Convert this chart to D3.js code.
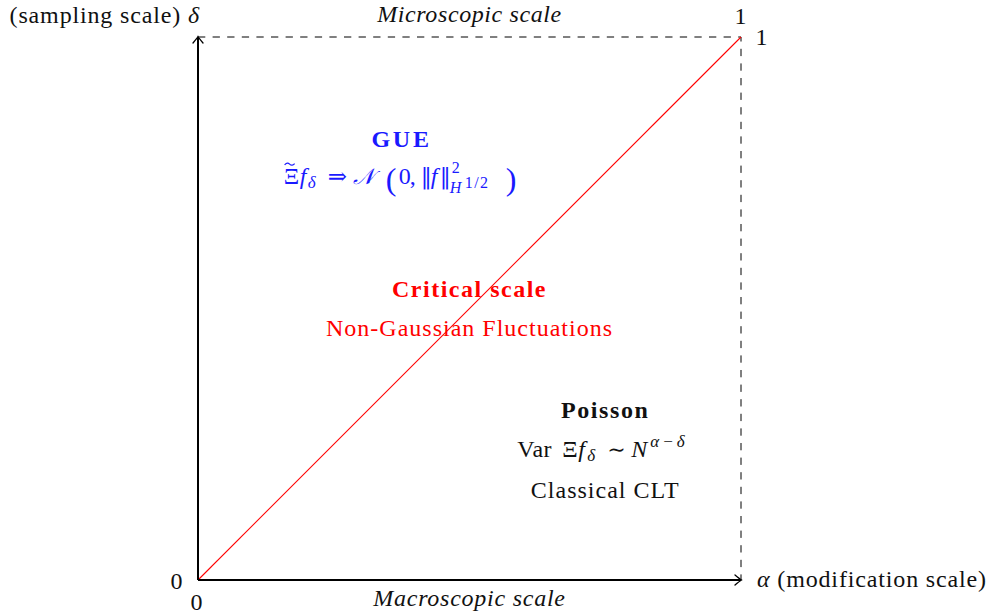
<!DOCTYPE html>
<html>
<head>
<meta charset="utf-8">
<script src="https://cdn.jsdelivr.net/npm/d3@7"></script>
<style>
  html, body { margin: 0; padding: 0; background: #fff; }
  svg text { font-family: "Liberation Serif", "DejaVu Serif", serif; }
</style>
</head>
<body>
<svg id="chart" width="995" height="616"></svg>
<script>
// ---- data ----
const axisDomain = [0, 1];
const xTickValues = [0, 1];
const yTickValues = [0, 1];
const diagonal = [[0, 0], [1, 1]];          // critical line alpha = delta
const boundary = [[0, 1], [1, 1], [1, 0]];  // dashed frame
const xAxisLabel = "(modification scale)";
const yAxisLabel = "(sampling scale)";
const topLabel = "Microscopic scale";
const bottomLabel = "Macroscopic scale";
const regionNames = ["GUE", "Critical scale", "Poisson"];
const regionAlpha = [0.375, 0.5, 0.75];
const regionDelta = [0.75, 0.5, 0.25];

// ---- layout ----
const svg = d3.select("#chart");
const x = d3.scaleLinear().domain(axisDomain).range([198, 741]);
const y = d3.scaleLinear().domain(axisDomain).range([580, 37]);
const FS = 24;
const LS = 0.85;
const BLUE = "#1a1aff";

const defs = svg.append("defs");
defs.append("marker")
  .attr("id", "arrow").attr("viewBox", "-8 -6 10 12")
  .attr("refX", 0).attr("refY", 0)
  .attr("markerWidth", 10).attr("markerHeight", 12)
  .attr("markerUnits", "userSpaceOnUse").attr("orient", "auto")
  .append("path")
  .attr("d", "M-6,-5 Q-1.5,-1.2 0.5,0 Q-1.5,1.2 -6,5")
  .attr("fill", "none").attr("stroke", "#000").attr("stroke-width", 1.3)
  .attr("stroke-linecap", "round");

const line = d3.line().x(d => x(d[0])).y(d => y(d[1]));

// dashed frame
svg.append("path").datum(boundary).attr("d", line)
  .attr("fill", "none").attr("stroke", "#000").attr("stroke-width", 1)
  .attr("stroke-dasharray", "7.3,7.3");

// diagonal (red critical line)
svg.append("path").datum(diagonal).attr("d", line)
  .attr("fill", "none").style("stroke", "#ff0000").style("stroke-width", "1.1px");

// axes
svg.append("line").attr("x1", x(0)).attr("y1", y(0)).attr("x2", x(1)).attr("y2", y(0))
  .attr("stroke", "#000").attr("stroke-width", 2).attr("marker-end", "url(#arrow)");
svg.append("line").attr("x1", x(0)).attr("y1", y(0)).attr("x2", x(0)).attr("y2", y(1))
  .attr("stroke", "#000").attr("stroke-width", 2).attr("marker-end", "url(#arrow)");

function txt(px, py, anchor, opts = {}) {
  const t = svg.append("text").attr("x", px).attr("y", py)
    .attr("text-anchor", anchor)
    .attr("font-size", opts.size || FS)
    .attr("font-weight", opts.weight || "normal")
    .attr("font-style", opts.style || "normal")
    .attr("letter-spacing", opts.ls != null ? opts.ls : LS)
    .attr("fill", opts.fill || "#111");
  if (opts.family) t.style("font-family", opts.family);
  return t;
}

// tick labels
xTickValues.forEach(v => {
  txt(x(v) + (v === 0 ? -1 : 0), v === 0 ? 610 : 24, "middle").text(String(v));
});
txt(x(0) - 21, y(0) + 9, "middle").text(String(yTickValues[0]));
txt(x(1) + 21, y(1) + 8, "middle").text(String(yTickValues[1]));

// axis labels
const yl = txt(x(0) + 2, 23, "end");
yl.append("tspan").text(yAxisLabel + " ");
yl.append("tspan").attr("font-style", "italic").text("δ");

const xl = txt(x(1) + 16, y(0) + 7, "start");
xl.append("tspan").attr("font-style", "italic").text("α");
xl.append("tspan").text(" " + xAxisLabel);

txt((x(0) + x(1)) / 2, 22, "middle", {style: "italic", ls: 0.6}).text(topLabel);
txt((x(0) + x(1)) / 2, 606, "middle", {style: "italic", ls: 0.75}).text(bottomLabel);

// formula: one text element, pieces placed as tspans
// piece: [text, dx from centre, dy from baseline, size, style, family, ls]
function formula(cx, cy, pieces, fill) {
  const t = txt(cx, cy, "start", {ls: 0, fill});
  pieces.forEach(p => {
    const s = t.append("tspan")
      .attr("x", cx + p[1]).attr("y", cy + p[2])
      .attr("font-size", p[3])
      .attr("font-style", p[4] || "normal")
      .attr("letter-spacing", p[6] || 0)
      .text(p[0]);
    if (p[5]) s.style("font-family", p[5]);
  });
  return t;
}

// ---- regions ----
// GUE
{
  const cx = x(regionAlpha[0]), cy = y(regionDelta[0]);
  txt(cx, cy - 26, "middle", {weight: "bold", fill: BLUE, ls: 2.8}).text(regionNames[0]);
  const by = cy + 11;
  formula(cx, by, [
    ["Ξ", -118, 0, 24],
    ["f", -102, 0, 24, "italic"],
    ["δ", -94, 4, 17, "italic"],
    ["⇒", -74, 0, 23, null, "DejaVu Serif"],
    ["𝒩", -49, 0, 22, "italic", "DejaVu Serif"],
    ["(", -16, 6, 32],
    ["0", -3, 0, 24],
    [",", 8, 0, 24],
    ["‖", 19, 0, 22, null, "DejaVu Serif"],
    ["f", 29, 0, 24, "italic"],
    ["‖", 38, 0, 22, null, "DejaVu Serif"],
    ["2", 50, -11, 16],
    ["H", 48, 9, 16, "italic"],
    ["1/2", 63, 4, 16, null, null, 1.5],
    [")", 104, 6, 32]
  ], BLUE);
  // tilde accent over Xi
  const tx = cx - 117, ty = by - 20;
  svg.append("path")
    .attr("d", `M${tx},${ty + 1.2} q2.5,-3.2 5,-0.8 t5,-0.6`)
    .attr("fill", "none").attr("stroke", BLUE).attr("stroke-width", 1.2);
}
// Critical
{
  const cx = x(regionAlpha[1]), cy = y(regionDelta[1]);
  txt(cx, cy - 12, "middle", {weight: "bold", fill: "#ff0000", ls: 1.5}).text(regionNames[1]);
  txt(cx, cy + 27, "middle", {fill: "#ff0000", ls: 1.0}).text("Non-Gaussian Fluctuations");
}
// Poisson
{
  const cx = x(regionAlpha[2]), cy = y(regionDelta[2]);
  txt(cx, cy - 26, "middle", {weight: "bold", ls: 1.6}).text(regionNames[2]);
  formula(cx, cy + 13, [
    ["Var", -88, 0, 24, null, null, 0.5],
    ["Ξ", -43, 0, 24],
    ["f", -27, 0, 24, "italic"],
    ["δ", -18, 4, 17, "italic"],
    ["∼", 2, 0, 22, null, "DejaVu Serif"],
    ["N", 26, 0, 24, "italic"],
    ["α−δ", 45, -10, 17, "italic", null, 3]
  ], "#111");
  txt(cx, cy + 54, "middle", {ls: 1.0}).text("Classical CLT");
}
</script>
</body>
</html>
